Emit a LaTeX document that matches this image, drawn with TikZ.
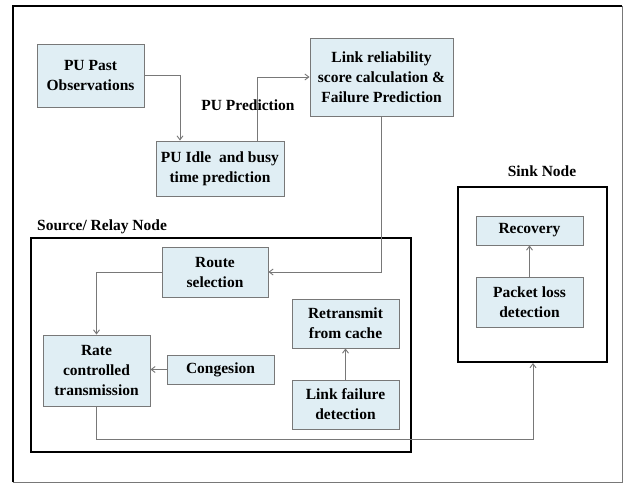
\documentclass[tikz,border=0pt]{standalone}
\usepackage{fontspec}
\setmainfont{Liberation Serif}
\usetikzlibrary{arrows.meta}
\definecolor{boxfill}{RGB}{224,238,244}
\definecolor{boxline}{RGB}{120,120,120}

\begin{document}
\begin{tikzpicture}
[x=1pt,y=-1pt,
 block/.style={draw=boxline,fill=boxfill,line width=0.9pt,align=center,inner sep=0pt,
   font=\fontsize{15.5}{20}\selectfont\bfseries},
 group/.style={draw=black,line width=2pt,inner sep=0pt},
 tag/.style={font=\fontsize{15.5}{20}\selectfont\bfseries,inner sep=0pt},
 link/.style={draw=boxline,line width=0.9pt,-{Straight Barb[length=4pt,width=6pt]}}]

\useasboundingbox (0,0) rectangle (624,483);
\fill[white] (0,0) rectangle (624,483);

% outer frame
\draw[line width=2pt] (13,482) -- (13,6) -- (622,6);
\draw[boxline,line width=1pt] (622,6) -- (622,482) -- (13,482);

% containers
\node (src) at (221,345) [group,minimum width=380pt,minimum height=214pt] {};
\node (sink) at (532.5,274.5) [group,minimum width=149pt,minimum height=175pt] {};
\node at (37,227) [tag,anchor=west] {Source/ Relay Node};
\node at (542,171) [tag] {Sink Node};

% blocks
\node (past) at (90.5,75.5) [block,minimum width=107pt,minimum height=63pt] {PU Past\\Observations};
\node (idle) at (220,168.5) [block,minimum width=128pt,minimum height=55pt] {PU Idle\ \ and busy\\time prediction};
\node (score) at (381.5,77) [block,minimum width=143pt,minimum height=78pt] {Link reliability\\score calculation \&\\Failure Prediction};
\node (route) at (215,272) [block,minimum width=106pt,minimum height=50pt] {Route\\selection};
\node (rate) at (96.5,370.5) [block,minimum width=107pt,minimum height=71pt] {Rate\\controlled\\transmission};
\node (cong) at (220.5,369.5) [block,minimum width=107pt,minimum height=29pt] {Congesion};
\node (retx) at (345.5,323.5) [block,minimum width=107pt,minimum height=49pt] {Retransmit\\from cache};
\node (fail) at (345.5,404.5) [block,minimum width=107pt,minimum height=49pt] {Link failure\\detection};
\node (recov) at (529.5,230.5) [block,minimum width=107pt,minimum height=29pt] {Recovery};
\node (pkt) at (529.5,302) [block,minimum width=107pt,minimum height=50pt] {Packet loss\\detection};

\coordinate (bend) at (533,439);

% connectors
\draw[link] (past.east) -| ([xshift=-40pt]idle.north);
\draw[link] ([xshift=37pt]idle.north) |- (score.west);
\node (pred) at (248,105) [tag] {PU Prediction};
\draw[link] (score.south) |- (route.east);
\draw[link] (route.west) -| (rate.north);
\draw[link] (cong.west) -- (cong.west -| rate.east);
\draw[link] (fail.north) -- (retx.south);
\draw[link] (pkt.north) -- (recov.south);
\draw[link] (rate.south) |- (bend) -- (bend |- sink.south);
\end{tikzpicture}
\end{document}
